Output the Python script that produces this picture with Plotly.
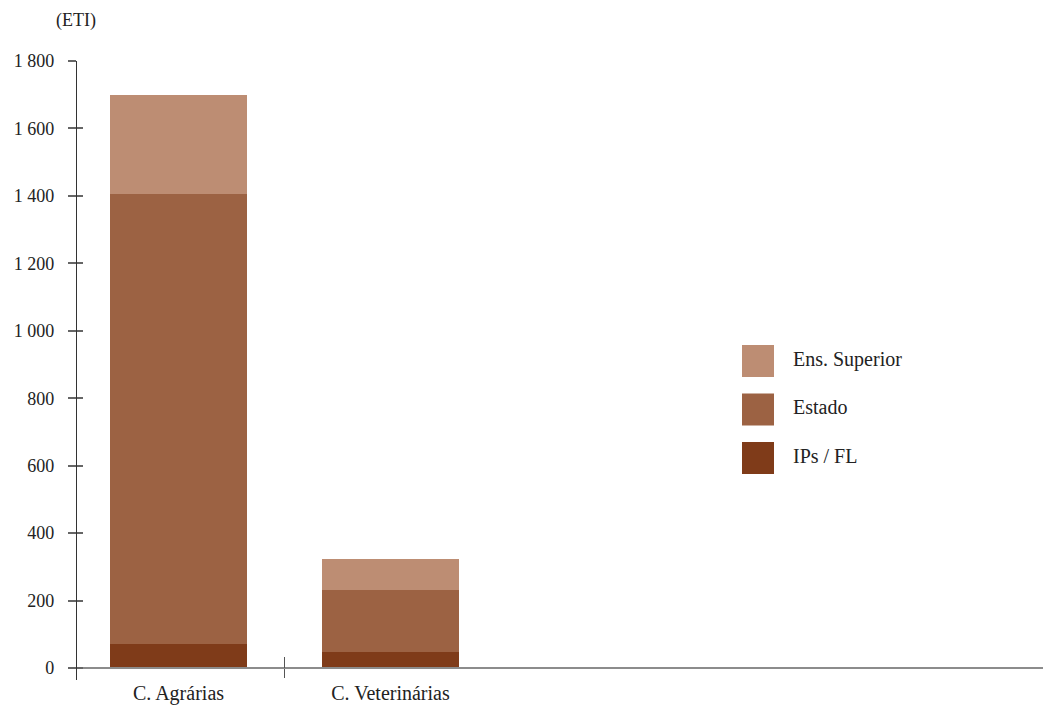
import plotly.graph_objects as go

categories = ["C. Agrárias", "C. Veterinárias"]
series_names = ["IPs / FL", "Estado", "Ens. Superior"]
ips_fl = [71, 47]
estado = [1335, 184]
ens_superior = [293, 92]
series_values = [ips_fl, estado, ens_superior]
series_colors = ["#7f3b19", "#9c6243", "#bd8d73"]
y_tickvals = [0, 200, 400, 600, 800, 1000, 1200, 1400, 1600, 1800]
y_unit_label = "(ETI)"

FONT = "Liberation Serif"
TXT = "#222222"

W, H = 1043, 708
ML, MR, MT, MB = 69, 0, 61, 28
plot_w = W - ML - MR
plot_h = H - MT - MB

y_min, y_max = -35.6, 1800
x_range = [-0.5165, 4.078]
x_pos = (0 - y_min) / (y_max - y_min)
y_pos = 7 / plot_w
dividers = [i + 0.5 for i in range(len(categories) - 1)]

fig = go.Figure()
for name, vals, col in zip(series_names, series_values, series_colors):
    fig.add_trace(go.Bar(x=categories, y=vals, name=name, marker=dict(color=col, line=dict(width=0)),
                         showlegend=False, xaxis="x", yaxis="y"))

# dummy traces so overlay axes are drawn
for xa, ya in [("x2", "y"), ("x3", "y"), ("x", "y2")]:
    fig.add_trace(go.Scatter(x=[None], y=[None], xaxis=xa, yaxis=ya, mode="markers",
                             showlegend=False, hoverinfo="skip"))

# custom legend (top entry = last series)
leg_names = series_names[::-1]
leg_cols = series_colors[::-1]
idx = list(range(len(leg_names)))
fig.add_trace(go.Scatter(x=[16] * len(idx), y=idx, mode="markers", xaxis="x4", yaxis="y4",
                         marker=dict(symbol="square", size=32, color=leg_cols, line=dict(width=0)),
                         showlegend=False, hoverinfo="skip"))
fig.add_trace(go.Scatter(x=[51] * len(idx), y=idx, mode="text", text=leg_names, textposition="middle right",
                         textfont=dict(family=FONT, size=20, color=TXT), xaxis="x4", yaxis="y4",
                         showlegend=False, hoverinfo="skip"))

common_y = dict(range=[y_min, y_max], anchor="free", position=y_pos, showgrid=False, zeroline=False,
                tickmode="array", tickvals=y_tickvals)
common_x = dict(range=x_range, anchor="free", position=x_pos, showgrid=False, zeroline=False)

leg_x0 = 742 - ML
leg_top, leg_bot = 330 - MT, 490 - MT

fig.update_layout(
    width=W, height=H,
    margin=dict(l=ML, r=MR, t=MT, b=MB, autoexpand=False),
    paper_bgcolor="white", plot_bgcolor="white",
    font=dict(family=FONT, size=18, color=TXT),
    barmode="stack", bargap=0.354,
    separators=", ",
    showlegend=False,
    xaxis=dict(type="category", categoryorder="array", categoryarray=categories, domain=[0, 1],
               showline=True, linecolor="#8c8c8c", linewidth=2, ticks="", ticklabelstandoff=7,
               tickfont=dict(size=20, color=TXT), automargin=False, **common_x),
    xaxis2=dict(overlaying="x", type="linear", tickmode="array", tickvals=dividers, ticks="outside",
                ticklen=9, tickwidth=1.2, tickcolor="#555555", showticklabels=False, showline=False, **common_x),
    xaxis3=dict(overlaying="x", type="linear", tickmode="array", tickvals=dividers, ticks="inside",
                ticklen=11, tickwidth=1.2, tickcolor="#555555", showticklabels=False, showline=False, **common_x),
    yaxis=dict(domain=[0, 1], showline=True, linecolor="#333333", linewidth=1.2, ticks="outside",
               ticklen=8, tickwidth=1.5, tickcolor="#666666", separatethousands=True,
               ticklabelstandoff=10, tickfont=dict(size=18, color=TXT), automargin=False, **common_y),
    yaxis2=dict(overlaying="y", ticks="inside", ticklen=6, tickwidth=1.5, tickcolor="#666666",
                showticklabels=False, showline=False, **common_y),
    xaxis4=dict(domain=[leg_x0 / plot_w, (leg_x0 + 258) / plot_w], range=[0, 258], visible=False,
                anchor="y4", fixedrange=True),
    yaxis4=dict(domain=[1 - leg_bot / plot_h, 1 - leg_top / plot_h], range=[2.66, -0.639],
                visible=False, anchor="x4", fixedrange=True),
    annotations=[dict(text=y_unit_label, xref="paper", yref="paper", x=y_pos, y=1 + (MT - 20) / plot_h,
                      xanchor="center", yanchor="middle", showarrow=False,
                      font=dict(family=FONT, size=18, color=TXT))],
)

fig.write_html(
    "out.html",
    config={"displayModeBar": False},
    post_script="document.body.style.margin='0';document.documentElement.style.overflow='hidden';"
                "document.body.style.overflow='hidden';",
)
